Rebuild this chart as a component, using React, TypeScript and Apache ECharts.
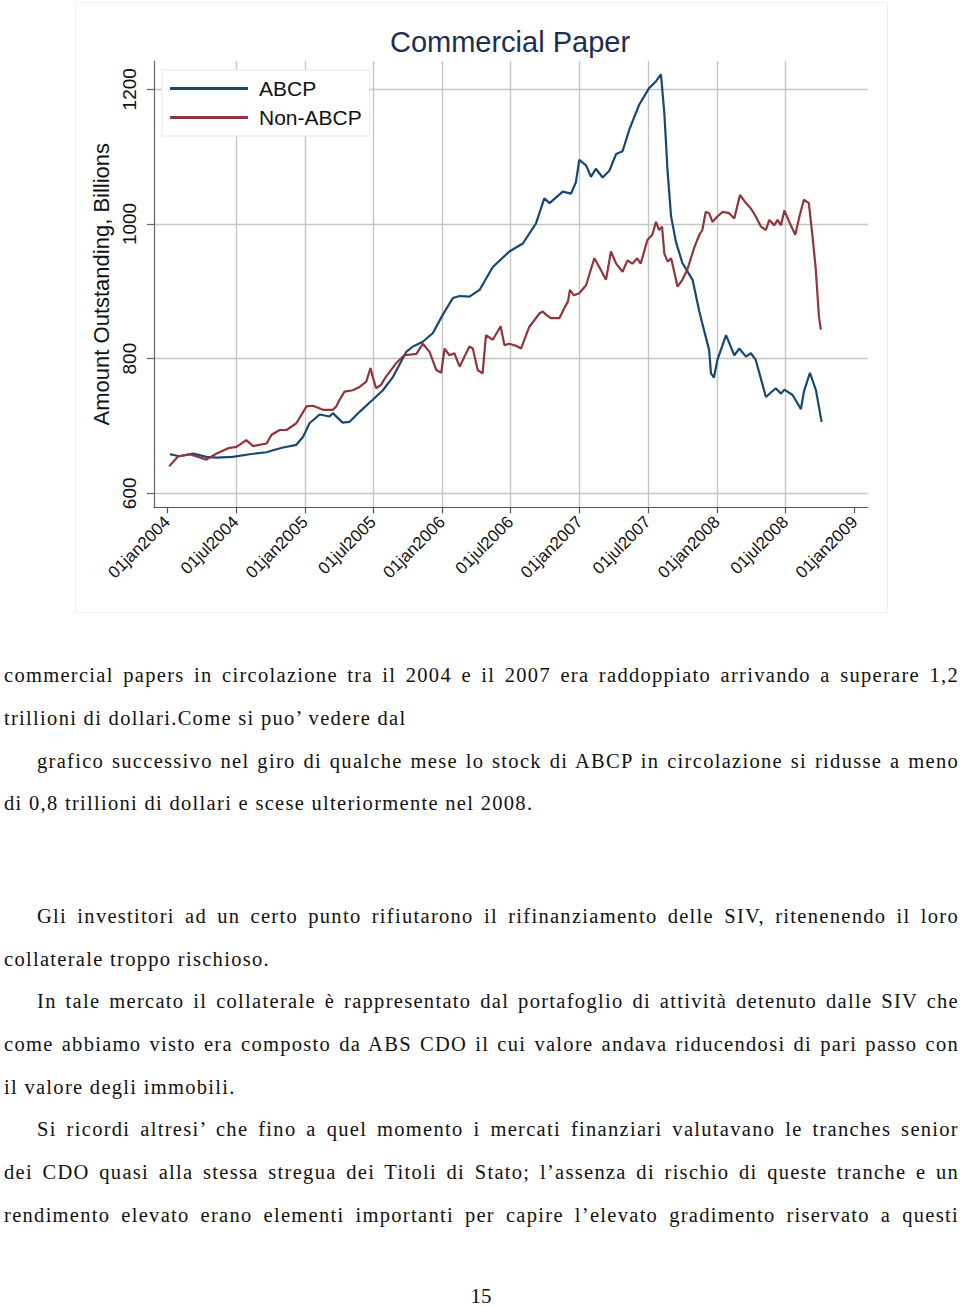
import React, { useEffect, useRef } from "react";
import * as echarts from "echarts";

const chartTitle = "Commercial Paper";
const yAxisTitle = "Amount Outstanding, Billions";
const seriesNames = ["ABCP", "Non-ABCP"];
const yTickValues = [600, 800, 1000, 1200];
const xTickDates = [
  "2004-01-01", "2004-07-01", "2005-01-01", "2005-07-01", "2006-01-01", "2006-07-01",
  "2007-01-01", "2007-07-01", "2008-01-01", "2008-07-01", "2009-01-01",
];
const xTickLabels = [
  "01jan2004", "01jul2004", "01jan2005", "01jul2005", "01jan2006", "01jul2006",
  "01jan2007", "01jul2007", "01jan2008", "01jul2008", "01jan2009",
];

const abcpDates = [
  "2004-01-08", "2004-02-03", "2004-03-10", "2004-04-14", "2004-05-11", "2004-06-23",
  "2004-08-07", "2004-09-21", "2004-10-08", "2004-11-04", "2004-12-09", "2004-12-27",
  "2005-01-13", "2005-02-09", "2005-03-07", "2005-03-16", "2005-04-11", "2005-04-29",
  "2005-05-26", "2005-06-30", "2005-07-27", "2005-08-23", "2005-09-27", "2005-10-15",
  "2005-11-10", "2005-12-07", "2006-01-02", "2006-01-29", "2006-02-16", "2006-03-14",
  "2006-04-10", "2006-05-15", "2006-06-28", "2006-08-03", "2006-09-07", "2006-09-29",
  "2006-10-13", "2006-11-17", "2006-12-09", "2006-12-22", "2006-12-31", "2007-01-18",
  "2007-01-31", "2007-02-13", "2007-03-03", "2007-03-21", "2007-04-08", "2007-04-25",
  "2007-05-13", "2007-06-08", "2007-07-05", "2007-07-23", "2007-08-05", "2007-08-14",
  "2007-08-23", "2007-09-01", "2007-09-14", "2007-10-01", "2007-10-28", "2007-11-15",
  "2007-11-23", "2007-12-11", "2007-12-16", "2007-12-24", "2008-01-02", "2008-01-25",
  "2008-02-16", "2008-02-29", "2008-03-18", "2008-03-31", "2008-04-13", "2008-05-10",
  "2008-06-05", "2008-06-19", "2008-06-28", "2008-07-20", "2008-08-11", "2008-08-19",
  "2008-09-04", "2008-09-20", "2008-10-05",
];
const abcpValues = [
  658, 655, 659, 654, 653, 654,
  658, 661, 664, 668, 672, 684,
  704, 717, 714, 719, 705, 706,
  721, 739, 753, 773, 810, 818,
  825, 838, 865, 890, 893, 892,
  902, 936, 959, 971, 1001, 1038,
  1031, 1048, 1045, 1062, 1095, 1087,
  1070, 1082, 1069, 1079, 1104, 1108,
  1140, 1177, 1202, 1212, 1222, 1165,
  1075, 1011, 973, 942, 917, 870,
  852, 813, 778, 772, 798, 835,
  805, 815, 803, 808, 798, 743,
  756, 748, 754, 746, 725, 751,
  779, 753, 706,
];

const nonAbcpDates = [
  "2004-01-06", "2004-01-17", "2004-01-30", "2004-03-01", "2004-04-14", "2004-05-11",
  "2004-06-11", "2004-07-03", "2004-07-29", "2004-08-16", "2004-09-21", "2004-10-04",
  "2004-10-26", "2004-11-13", "2004-12-09", "2005-01-05", "2005-01-22", "2005-02-18",
  "2005-03-16", "2005-03-25", "2005-04-03", "2005-04-16", "2005-05-08", "2005-05-26",
  "2005-06-13", "2005-06-24", "2005-06-30", "2005-07-09", "2005-07-22", "2005-08-04",
  "2005-08-31", "2005-09-22", "2005-10-24", "2005-11-10", "2005-11-28", "2005-12-16",
  "2005-12-29", "2006-01-07", "2006-01-20", "2006-02-02", "2006-02-16", "2006-03-01",
  "2006-03-14", "2006-03-23", "2006-04-05", "2006-04-18", "2006-04-27", "2006-05-15",
  "2006-06-05", "2006-06-15", "2006-06-28", "2006-07-16", "2006-07-29", "2006-08-20",
  "2006-09-16", "2006-09-25", "2006-10-04", "2006-10-17", "2006-10-30", "2006-11-08",
  "2006-11-21", "2006-12-01", "2006-12-06", "2006-12-17", "2006-12-31", "2007-01-18",
  "2007-02-09", "2007-02-22", "2007-03-12", "2007-03-25", "2007-04-08", "2007-04-25",
  "2007-05-08", "2007-05-21", "2007-06-03", "2007-06-12", "2007-06-30", "2007-07-13",
  "2007-07-23", "2007-07-31", "2007-08-08", "2007-08-14", "2007-08-23", "2007-09-01",
  "2007-09-10", "2007-09-18", "2007-10-01", "2007-10-14", "2007-11-01", "2007-11-15",
  "2007-11-23", "2007-12-02", "2007-12-11", "2007-12-20", "2008-01-02", "2008-01-16",
  "2008-02-02", "2008-02-16", "2008-03-02", "2008-03-18", "2008-03-31", "2008-04-13",
  "2008-04-27", "2008-05-10", "2008-05-19", "2008-06-01", "2008-06-10", "2008-06-19",
  "2008-06-28", "2008-07-11", "2008-07-27", "2008-08-07", "2008-08-19", "2008-09-01",
  "2008-09-10", "2008-09-19", "2008-09-28", "2008-10-03",
];
const nonAbcpValues = [
  640, 647, 655, 658, 650, 659,
  667, 669, 679, 670, 674, 687,
  694, 694, 704, 729, 730, 724,
  724, 729, 739, 751, 753, 758,
  766, 786, 773, 756, 761, 773,
  793, 805, 807, 822, 810, 783,
  779, 815, 805, 808, 788, 803,
  818, 815, 783, 778, 835, 828,
  848, 820, 822, 819, 815, 847,
  867, 870, 865, 860, 860, 860,
  875, 885, 902, 894, 897, 909,
  949, 936, 917, 959, 941, 929,
  946, 941, 949, 941, 976, 984,
  1003, 991, 996, 956, 944, 949,
  927, 907, 917, 932, 964, 984,
  991, 1018, 1016, 1003, 1011, 1018,
  1016, 1008, 1043, 1031, 1023, 1011,
  996, 991, 1006, 998, 1006, 998,
  1020, 1003, 984, 1011, 1036, 1031,
  986, 936, 862, 843,
];

const textLines = [
  { text: "commercial papers in circolazione tra il 2004 e il 2007 era raddoppiato arrivando a superare 1,2", indent: false, justify: true },
  { text: "trillioni di dollari.Come si puo\u2019 vedere dal", indent: false, justify: false },
  { text: "grafico successivo nel giro di qualche mese lo stock di ABCP in circolazione si ridusse a meno", indent: true, justify: true },
  { text: "di 0,8 trillioni di dollari e scese ulteriormente nel 2008.", indent: false, justify: false },
  { text: "Gli investitori ad un certo punto rifiutarono il rifinanziamento delle SIV, ritenenendo il loro", indent: true, justify: true },
  { text: "collaterale troppo rischioso.", indent: false, justify: false },
  { text: "In tale mercato il collaterale \u00e8 rappresentato dal portafoglio di attivit\u00e0 detenuto dalle SIV che", indent: true, justify: true },
  { text: "come abbiamo visto era composto da ABS CDO il cui valore andava riducendosi di pari passo con", indent: false, justify: true },
  { text: "il valore degli immobili.", indent: false, justify: false },
  { text: "Si ricordi altresi\u2019 che fino a quel momento i mercati finanziari valutavano le tranches senior", indent: true, justify: true },
  { text: "dei CDO quasi alla stessa stregua dei Titoli di Stato; l\u2019assenza di rischio di queste tranche e un", indent: false, justify: true },
  { text: "rendimento elevato erano elementi importanti per capire l\u2019elevato gradimento riservato a questi", indent: false, justify: true },
];
const textBaselines = [682, 725, 768, 810, 923, 966, 1008, 1051, 1094, 1136, 1179, 1222];
const pageNumber = "15";

const DAY = 86400000;
const toTs = (s: string) => {
  const [y, m, d] = s.split("-").map(Number);
  return Date.UTC(y, m - 1, d);
};

const SANS = "'Liberation Sans', Arial, Helvetica, sans-serif";
const SERIF = "'Liberation Serif', 'Times New Roman', serif";

function Chart() {
  const ref = useRef<HTMLDivElement>(null);
  useEffect(() => {
    if (!ref.current) return;
    const chart = echarts.init(ref.current, null, { renderer: "svg" });
    const tickTs = xTickDates.map(toTs);
    const base = toTs("2004-01-01");
    const gridColors = tickTs.map((_, i) => (i === 0 || i === tickTs.length - 1 ? "rgba(0,0,0,0)" : "#c6c6c6"));
    chart.setOption({
      animation: false,
      backgroundColor: "#ffffff",
      title: {
        text: chartTitle,
        left: 505,
        top: 22,
        textAlign: "center",
        textStyle: { fontFamily: SANS, fontSize: 29, fontWeight: "normal", color: "#1c2f52" },
      },
      legend: {
        left: 162,
        top: 70,
        orient: "vertical",
        padding: 8,
        itemGap: 8,
        itemWidth: 78,
        itemHeight: 3,
        icon: "rect",
        backgroundColor: "#ffffff",
        borderColor: "#e6e6e6",
        borderWidth: 1,
        borderRadius: 0,
        data: seriesNames,
        textStyle: { fontFamily: SANS, fontSize: 21, color: "#111", padding: [0, 0, 0, 6], lineHeight: 21 },
      },
      grid: {
        left: 154,
        right: 960 - 867.7,
        top: 61,
        bottom: 620 - 507.3,
        containLabel: false,
        outerBoundsMode: "none",
      },
      xAxis: {
        type: "value",
        scale: true,
        min: base - 35.3 * DAY,
        max: base + 1861.5 * DAY,
        axisLine: { show: true, onZero: false, lineStyle: { color: "#555", width: 1.2 } },
        axisTick: { show: true, length: 6, customValues: tickTs, lineStyle: { color: "#555", width: 1.2 } },
        axisLabel: {
          show: true,
          customValues: tickTs,
          rotate: 45,
          margin: 12,
          fontFamily: SANS,
          fontSize: 17,
          color: "#111",
          formatter: (v: number) => {
            let best = -1;
            let bd = Infinity;
            tickTs.forEach((t, i) => {
              const d = Math.abs(t - v);
              if (d < bd) { bd = d; best = i; }
            });
            return best >= 0 && bd < 5 * DAY ? xTickLabels[best] : "";
          },
        },
        splitLine: { show: true, lineStyle: { color: gridColors, width: 1.4 } },
      },
      yAxis: {
        type: "value",
        min: 579.2,
        max: 1242,
        name: yAxisTitle,
        nameLocation: "middle",
        nameRotate: 90,
        nameGap: 36,
        nameTextStyle: { fontFamily: SANS, fontSize: 22, color: "#111" },
        axisLine: { show: true, onZero: false, lineStyle: { color: "#666", width: 1.2 } },
        axisTick: { show: true, length: 7, customValues: yTickValues, lineStyle: { color: "#666", width: 1.2 } },
        axisLabel: {
          show: true,
          customValues: yTickValues,
          rotate: 90,
          margin: 15,
          fontFamily: SANS,
          fontSize: 19,
          color: "#111",
          formatter: (v: number) => String(Math.round(v)),
        },
        splitLine: { show: true, lineStyle: { color: "#c6c6c6", width: 1.4 } },
      },
      series: [
        {
          name: seriesNames[0],
          type: "line",
          showSymbol: false,
          symbol: "none",
          color: "#1a476f",
          lineStyle: { color: "#1a476f", width: 2.2 },
          data: abcpDates.map((d, i) => [toTs(d), abcpValues[i]]),
        },
        {
          name: seriesNames[1],
          type: "line",
          showSymbol: false,
          symbol: "none",
          color: "#90353b",
          lineStyle: { color: "#90353b", width: 2.2 },
          data: nonAbcpDates.map((d, i) => [toTs(d), nonAbcpValues[i]]),
        },
      ],
      graphic: [
        {
          type: "rect",
          shape: { x: 75.5, y: 2.5, width: 812, height: 610 },
          style: { fill: "none", stroke: "#f0f0f0", lineWidth: 1 },
          silent: true,
          z: -1,
        },
      ],
    });
    return () => chart.dispose();
  }, []);
  return <div ref={ref} style={{ position: "absolute", left: 0, top: 0, width: 960, height: 620 }} />;
}

export default function App() {
  return (
    <div style={{ position: "absolute", left: 0, top: 0, width: 960, height: 1307, background: "#fff", overflow: "hidden" }}>
      <Chart />
      {textLines.map((ln, i) => (
        <div
          key={i}
          style={{
            position: "absolute",
            left: 4,
            top: textBaselines[i] - 18.9,
            width: 955,
            boxSizing: "border-box",
            paddingLeft: ln.indent ? 33 : 0,
            fontFamily: SERIF,
            fontSize: 20.5,
            lineHeight: "24px",
            letterSpacing: 1.3,
            color: "#111",
            whiteSpace: "nowrap",
            textAlign: ln.justify ? "justify" : "left",
            textAlignLast: ln.justify ? "justify" : "left",
          }}
        >
          {ln.text}
        </div>
      ))}
      <div
        style={{
          position: "absolute",
          left: 0,
          width: 962,
          top: 1287,
          textAlign: "center",
          fontFamily: SERIF,
          fontSize: 21,
          lineHeight: "18px",
          color: "#111",
        }}
      >
        {pageNumber}
      </div>
    </div>
  );
}
